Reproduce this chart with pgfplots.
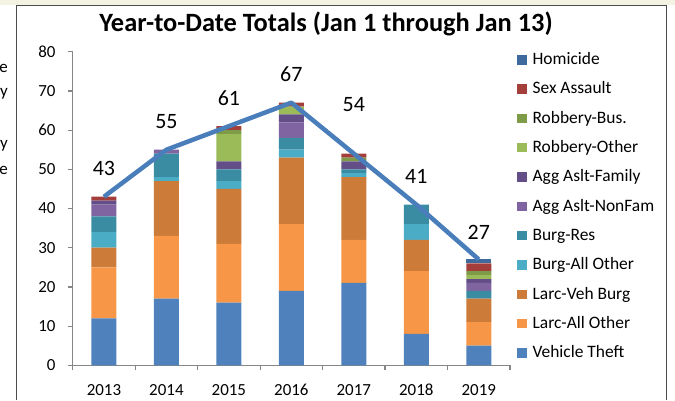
\documentclass[border=0pt]{standalone}
\usepackage{pgfplots}
\pgfplotsset{compat=1.18}
\usepackage{pgfplotstable}
\usepackage{fontspec}
\setmainfont{Carlito}

\definecolor{cVT}{HTML}{4F81BD}
\definecolor{cLAO}{HTML}{F79646}
\definecolor{cLVB}{HTML}{CC7B38}
\definecolor{cBAO}{HTML}{4BACC6}
\definecolor{cBR}{HTML}{3A8CA3}
\definecolor{cANF}{HTML}{8064A2}
\definecolor{cAAF}{HTML}{644E88}
\definecolor{cRO}{HTML}{9BBB59}
\definecolor{cRB}{HTML}{7E9B48}
\definecolor{cSA}{HTML}{A33E3B}
\definecolor{cHOM}{HTML}{3E6A9D}
\definecolor{cLine}{HTML}{4A7EBB}
\definecolor{axisgray}{HTML}{868686}
\definecolor{cream}{HTML}{F4F2E2}

\pgfplotstableread{
x VT LAO LVB BAO BR ANF AAF RO RB SA HOM
0 12 13 5 4 4 3 1 0 0 1 0
1 17 16 14 1 6 1 0 0 0 0 0
2 16 15 14 2 3 0 2 7 1 1 0
3 19 17 17 2 3 4 2 2 0 1 0
4 21 11 16 1 1 0 2 0 1 1 0
5 8 16 8 4 5 0 0 0 0 0 0
6 5 6 6 0 2 2 1 1 1 2 1
}\crimes

\pgfplotstableread{
x y dy
0 43 28
1 55 28
2 61 28
3 67 28.5
4 54 49.5
5 41 28
6 27 27
}\totals

\begin{document}
\begin{tikzpicture}[x=1bp,y=1bp]
\fill[cream] (0,395) rectangle (675,400);
\draw[black!70, line width=0.8bp] (16.5,0) -- (16.5,395) -- (666,395) -- (666,0);
\begin{scope}
\clip (0,0) rectangle (15,394);
\node[anchor=base east, inner sep=0pt, font=\fontsize{17}{17}\selectfont] at (8,328) {Date};
\node[anchor=base east, inner sep=0pt, font=\fontsize{17}{17}\selectfont] at (8,304) {Quarry};
\node[anchor=base east, inner sep=0pt, font=\fontsize{17}{17}\selectfont] at (8,252) {Weekly};
\node[anchor=base east, inner sep=0pt, font=\fontsize{17}{17}\selectfont] at (8,226) {Date};
\end{scope}

\node[font=\bfseries\fontsize{26.5}{26.5}\selectfont, inner sep=0pt] at (326,376) {Year-to-Date Totals (Jan 1 through Jan 13)};

\begin{axis}[
  at={(72.7bp,34.7bp)}, anchor=south west,
  scale only axis, width=437.3bp, height=313.6bp,
  ybar stacked, bar width=25bp,
  xmin=-0.5, xmax=6.5, ymin=0, ymax=80,
  axis x line*=bottom, axis y line*=left,
  axis line style={draw=axisgray, line width=1.2bp, -},
  xtick={-0.5,0.5,1.5,2.5,3.5,4.5,5.5,6.5}, xticklabels={},
  extra x ticks={0,1,2,3,4,5,6},
  extra x tick labels={2013,2014,2015,2016,2017,2018,2019},
  extra x tick style={major tick length=0pt},
  ytick={0,10,...,80},
  tick align=outside, major tick length=5bp,
  tick style={draw=axisgray, line width=1.2bp},
  /pgf/number format/assume math mode=true,
  ticklabel style={font=\fontsize{17}{17}\selectfont},
  yticklabel style={inner sep=0pt, xshift=-12bp},
  xticklabel style={inner sep=0pt, anchor=north, text height=11bp, text depth=0pt, yshift=-18.5bp},
  reverse legend,
  legend style={at={(1,1)}, anchor=north west, xshift=7bp, yshift=-1.6bp,
    draw=none, fill=none, inner sep=0pt, column sep=6bp, row sep=14.33bp,
    font=\fontsize{17.5}{17.5}\selectfont,
    nodes={inner sep=0pt, text height=11bp, text depth=4bp, anchor=base west}},
  legend image code/.code={\fill[#1,draw=none] (0bp,0bp) rectangle (9.4bp,9.4bp);},
  every axis plot/.append style={draw=none},
]
\addplot[fill=cVT] table[x=x,y=VT] {\crimes};
\addlegendentry{Vehicle Theft}
\addplot[fill=cLAO] table[x=x,y=LAO] {\crimes};
\addlegendentry{Larc-All Other}
\addplot[fill=cLVB] table[x=x,y=LVB] {\crimes};
\addlegendentry{Larc-Veh Burg}
\addplot[fill=cBAO] table[x=x,y=BAO] {\crimes};
\addlegendentry{Burg-All Other}
\addplot[fill=cBR] table[x=x,y=BR] {\crimes};
\addlegendentry{Burg-Res}
\addplot[fill=cANF] table[x=x,y=ANF] {\crimes};
\addlegendentry{Agg Aslt-NonFam}
\addplot[fill=cAAF] table[x=x,y=AAF] {\crimes};
\addlegendentry{Agg Aslt-Family}
\addplot[fill=cRO] table[x=x,y=RO] {\crimes};
\addlegendentry{Robbery-Other}
\addplot[fill=cRB] table[x=x,y=RB] {\crimes};
\addlegendentry{Robbery-Bus.}
\addplot[fill=cSA] table[x=x,y=SA] {\crimes};
\addlegendentry{Sex Assault}
\addplot[fill=cHOM] table[x=x,y=HOM] {\crimes};
\addlegendentry{Homicide}
\end{axis}

\begin{axis}[
  at={(72.7bp,34.7bp)}, anchor=south west,
  scale only axis, width=437.3bp, height=313.6bp,
  xmin=-0.5, xmax=6.5, ymin=0, ymax=80,
  hide axis, clip=false,
  /pgf/number format/assume math mode=true,
]
\addplot[cLine, line width=4.5bp, line join=round, mark=none,
  point meta=\thisrow{y},
  visualization depends on={\thisrow{dy} \as \dy},
  nodes near coords,
  nodes near coords style={anchor=center, yshift=\dy, text=black, font=\fontsize{22}{22}\selectfont, inner sep=0pt},
] table[x=x,y=y] {\totals};
\end{axis}
\pgfresetboundingbox
\path[use as bounding box] (0,0) rectangle (675,400);
\end{tikzpicture}
\end{document}
